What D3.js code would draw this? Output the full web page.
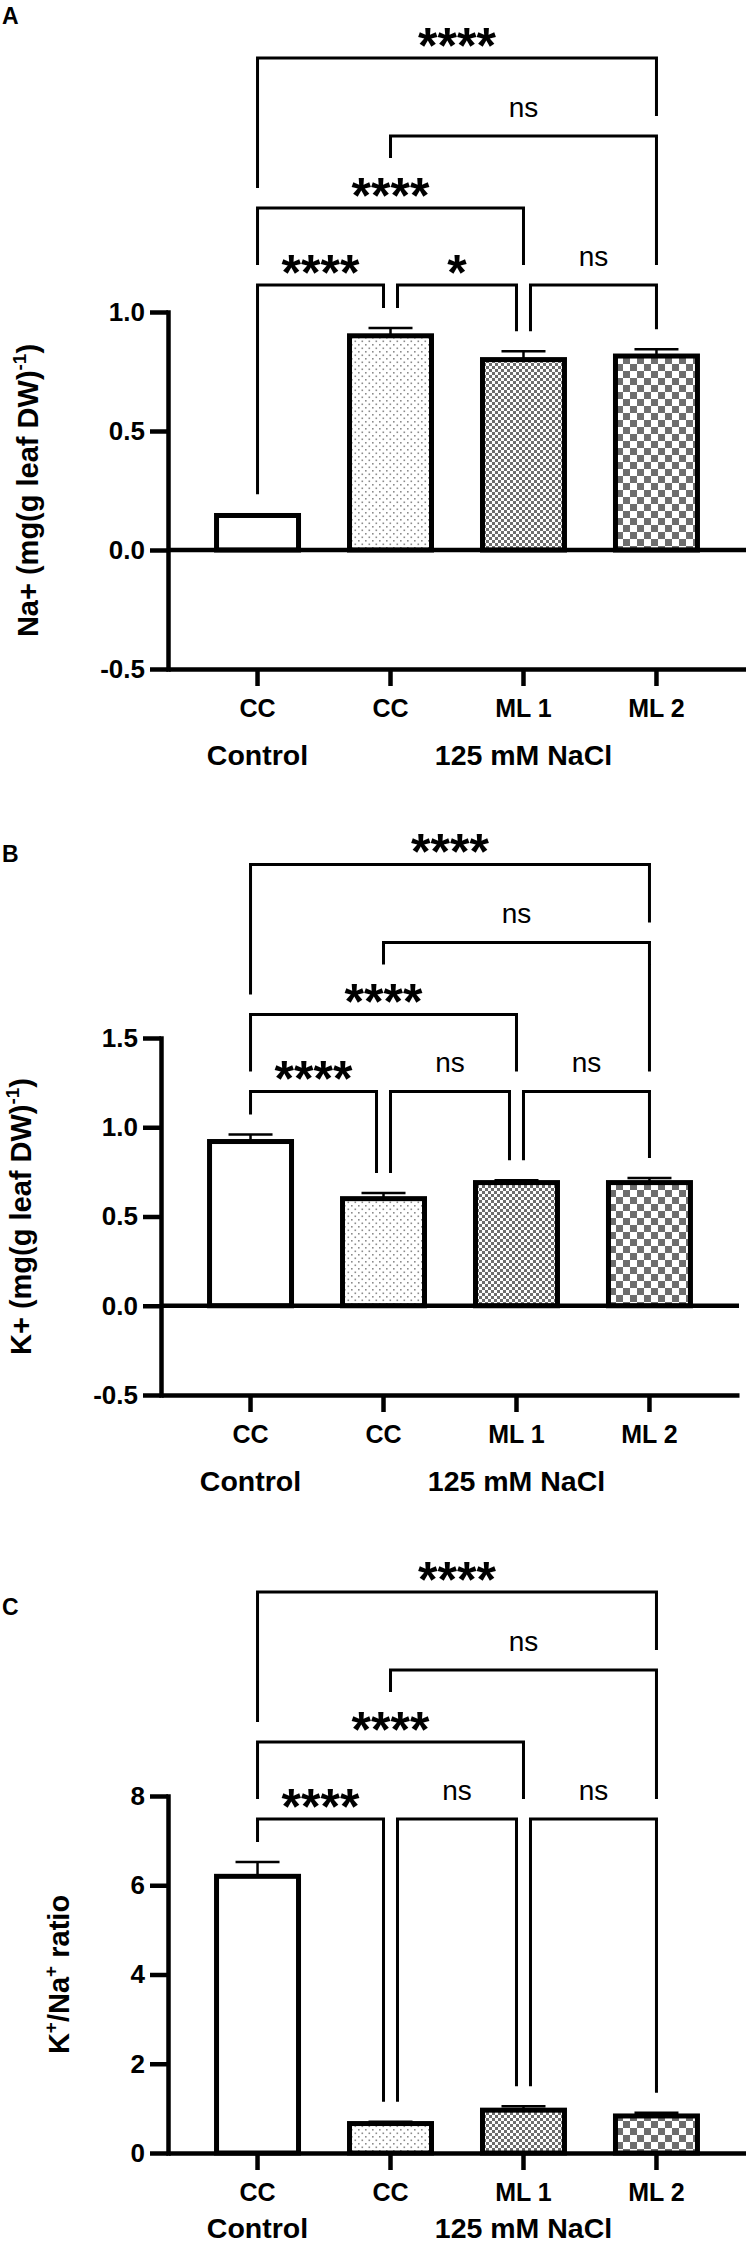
<!DOCTYPE html>
<html>
<head>
<meta charset="utf-8">
<script src="https://cdn.jsdelivr.net/npm/d3@7"></script>
<style>
body { margin: 0; background: #fff; }
svg { display: block; }
</style>
</head>
<body>
<script>
// groups on the x axis
const categories = ["CC", "CC", "ML 1", "ML 2"];
const groupLabels = ["Control", "125 mM NaCl"];
const groupSpans = [[0, 0], [1, 3]];

// A: Na+ content
const naMean = [0.145, 0.90, 0.80, 0.815];
const naSem = [0.005, 0.033, 0.035, 0.028];
const naTicks = [-0.5, 0, 0.5, 1.0];

// B: K+ content
const kMean = [0.92, 0.60, 0.69, 0.69];
const kSem = [0.04, 0.032, 0.013, 0.025];
const kTicks = [-0.5, 0, 0.5, 1.0, 1.5];

// C: K+/Na+ ratio
const ratioMean = [6.2, 0.66, 0.96, 0.83];
const ratioSem = [0.32, 0.04, 0.09, 0.07];
const ratioTicks = [0, 2, 4, 6, 8];

// multiple comparisons (pairs of category index) and their labels
const comparisonPairs = [[0, 1], [1, 2], [2, 3], [0, 2], [1, 3], [0, 3]];
const naSig = ["****", "*", "ns", "****", "ns", "****"];
const kSig = ["****", "ns", "ns", "****", "ns", "****"];
const ratioSig = ["****", "ns", "ns", "****", "ns", "****"];

const width = 746, height = 2247;
const fillIds = ["fill-white", "fill-dots", "fill-fine", "fill-coarse"];

// plain hyphen for negatives, like the original figure
const hyphen = f => v => f(v).replace("\u2212", "-");

const svg = d3.select("body").append("svg")
    .attr("width", width)
    .attr("height", height)
    .attr("font-family", "'Liberation Sans', Arial, sans-serif");

const defs = svg.append("defs");
defs.append("pattern").attr("id", "fill-white")
    .attr("patternUnits", "userSpaceOnUse").attr("width", 4).attr("height", 4)
  .append("rect").attr("width", 4).attr("height", 4).attr("fill", "#fff");

const dots = defs.append("pattern").attr("id", "fill-dots")
    .attr("patternUnits", "userSpaceOnUse").attr("width", 7).attr("height", 7);
dots.append("rect").attr("width", 7).attr("height", 7).attr("fill", "#fff");
dots.append("rect").attr("x", 1).attr("y", 1).attr("width", 1.6).attr("height", 1.6).attr("fill", "#8c8c8c");
dots.append("rect").attr("x", 4.5).attr("y", 4.5).attr("width", 1.6).attr("height", 1.6).attr("fill", "#8c8c8c");

function checker(id, s) {
  const p = defs.append("pattern").attr("id", id)
      .attr("patternUnits", "userSpaceOnUse").attr("width", 2 * s).attr("height", 2 * s);
  p.append("rect").attr("width", 2 * s).attr("height", 2 * s).attr("fill", "#fff");
  p.append("rect").attr("width", s).attr("height", s).attr("fill", "#6e6e6e");
  p.append("rect").attr("x", s).attr("y", s).attr("width", s).attr("height", s).attr("fill", "#6e6e6e");
}
checker("fill-fine", 3);
checker("fill-coarse", 7);

const panels = [
  {letter: "A", mean: naMean, sem: naSem, sig: naSig, ticks: naTicks, fmt: hyphen(d3.format(".1f")),
   title: [["Na+ (mg(g leaf DW)", 0], ["-1", 1], [")", 0]], bottom: 669, dx: 0, letterY: 24},
  {letter: "B", mean: kMean, sem: kSem, sig: kSig, ticks: kTicks, fmt: hyphen(d3.format(".1f")),
   title: [["K+ (mg(g leaf DW)", 0], ["-1", 1], [")", 0]], bottom: 1395, dx: -7, letterY: 862},
  {letter: "C", mean: ratioMean, sem: ratioSem, sig: ratioSig, ticks: ratioTicks, fmt: d3.format("d"),
   title: [["K", 0], ["+", 1], ["/Na", 0], ["+", 1], [" ratio", 0]], bottom: 2153, dx: 0, letterY: 1615}
];

const plotH = 357;
const tierStep = [77, 72, 78];

// lowest tier where the comparison does not overlap another one
function assignTiers(pairs) {
  const order = d3.range(pairs.length).sort((a, b) =>
    (pairs[a][1] - pairs[a][0]) - (pairs[b][1] - pairs[b][0]) || pairs[a][0] - pairs[b][0]);
  const tiers = [], placed = [];
  order.forEach(k => {
    const [a, b] = pairs[k];
    let t = 0;
    while (placed.some(q => q.t === t && Math.min(b, q.b) - Math.max(a, q.a) > 0)) t++;
    placed.push({a, b, t});
    tiers[k] = t;
  });
  return tiers;
}

function drawPanel(p) {
  const g = svg.append("g").attr("transform", `translate(${p.dx},0)`);
  const x = d3.scaleBand()
      .domain(d3.range(categories.length))
      .range([168, 746])
      .paddingInner(0.3835)
      .paddingOuter(0.365);
  const cx = i => x(i) + x.bandwidth() / 2;
  const y = d3.scaleLinear()
      .domain([p.ticks[0], p.ticks[p.ticks.length - 1]])
      .range([p.bottom, p.bottom - plotH]);

  // bars
  g.append("g").selectAll("rect")
    .data(p.mean)
    .join("rect")
      .attr("x", (d, i) => x(i))
      .attr("width", x.bandwidth())
      .attr("y", d => y(d))
      .attr("height", d => y(0) - y(d))
      .attr("fill", (d, i) => `url(#${fillIds[i]})`)
      .attr("stroke", "#000")
      .attr("stroke-width", 5);

  // error bars (SEM, upward)
  const err = g.append("g").attr("stroke", "#000").attr("stroke-width", 2.5);
  p.mean.forEach((m, i) => {
    err.append("line").attr("x1", cx(i)).attr("x2", cx(i))
        .attr("y1", y(m)).attr("y2", y(m + p.sem[i]));
    err.append("line").attr("x1", cx(i) - 22).attr("x2", cx(i) + 22)
        .attr("y1", y(m + p.sem[i])).attr("y2", y(m + p.sem[i]));
  });

  // y axis
  const yAxis = g.append("g")
      .attr("transform", "translate(168,0)")
      .call(d3.axisLeft(y).tickValues(p.ticks).tickFormat(p.fmt).tickSize(18).tickSizeOuter(0).tickPadding(5));
  yAxis.select(".domain").attr("stroke-width", 4.5).attr("stroke-linecap", "square");
  yAxis.selectAll(".tick line").attr("stroke-width", 4.5);
  yAxis.selectAll("text").attr("font-size", 26).attr("font-weight", "bold").attr("fill", "#000");

  // x axis at the bottom of the plot
  const xAxis = g.append("g")
      .attr("transform", `translate(0,${p.bottom})`)
      .call(d3.axisBottom(x).tickFormat(i => categories[i]).tickSize(17).tickSizeOuter(0).tickPadding(13));
  xAxis.select(".domain").attr("stroke-width", 4.5);
  xAxis.selectAll(".tick line").attr("stroke-width", 4.5);
  xAxis.selectAll("text").attr("font-size", 25).attr("font-weight", "bold").attr("fill", "#000");

  // line at y = 0 when the axis goes below zero
  if (p.ticks[0] < 0) {
    g.append("line").attr("x1", 168).attr("x2", 746)
        .attr("y1", y(0)).attr("y2", y(0))
        .attr("stroke", "#000").attr("stroke-width", 4.5);
  }

  // group labels (kept inside the page at the very bottom)
  g.append("g").selectAll("text")
    .data(groupLabels)
    .join("text")
      .attr("x", (d, i) => (cx(groupSpans[i][0]) + cx(groupSpans[i][1])) / 2)
      .attr("y", Math.min(p.bottom + 96, height - 9))
      .attr("text-anchor", "middle")
      .attr("font-size", 28.5)
      .attr("font-weight", "bold")
      .text(d => d);

  // y axis title
  let minLeft = Infinity;
  yAxis.selectAll("text").each(function() { minLeft = Math.min(minLeft, this.getBBox().x + 168); });
  const tx = Math.max(minLeft - 72, 14 - p.dx);
  const title = g.append("text")
      .attr("transform", `translate(${tx + 10},${p.bottom - plotH / 2}) rotate(-90)`)
      .attr("text-anchor", "middle")
      .attr("font-size", 29)
      .attr("font-weight", "bold");
  let up = 0;
  p.title.forEach(([s, sup]) => {
    const dy = sup === up ? 0 : (sup ? -12 : 12);
    up = sup;
    title.append("tspan").attr("dy", dy).attr("font-size", sup ? 19 : 29).text(s);
  });

  // significance brackets
  const tiers = assignTiers(comparisonPairs);
  const base = y(d3.max(p.mean, (m, i) => m + p.sem[i])) - 43;
  const tierY = [base];
  tierStep.forEach((s, k) => tierY.push(tierY[k] - s));

  const br = comparisonPairs.map(([a, b], k) => {
    const t = tiers[k];
    const sharedL = comparisonPairs.some(([a2, b2], k2) => k2 !== k && tiers[k2] === t && b2 === a);
    const sharedR = comparisonPairs.some(([a2, b2], k2) => k2 !== k && tiers[k2] === t && a2 === b);
    return {a, b, t, label: p.sig[k], yb: tierY[t],
      xl: cx(a) + (sharedL ? 7 : 0), xr: cx(b) - (sharedR ? 7 : 0)};
  });

  const bg = g.append("g");
  br.forEach(d => {
    const star = d.label.includes("*");
    const txt = bg.append("text")
        .attr("x", (d.xl + d.xr) / 2)
        .attr("y", star ? d.yb + 5 : d.yb - 19)
        .attr("text-anchor", "middle")
        .attr("font-size", star ? 50 : 28)
        .attr("font-weight", star ? "bold" : "normal")
        .text(d.label);
    d.w = txt.node().getComputedTextLength();
    d.top = d.yb - 34;
  });

  function legEnd(c, xc, t) {
    let lim = y(p.mean[c] + p.sem[c]) - 20;
    br.forEach(o => {
      if (o.t >= t) return;
      if (cx(o.a) - 1 <= xc && xc <= cx(o.b) + 1) lim = Math.min(lim, o.yb - 20);
      const m = (o.xl + o.xr) / 2;
      if (Math.abs(xc - m) <= o.w / 2 + 2) lim = Math.min(lim, o.top - 16);
    });
    return lim;
  }

  bg.selectAll("path")
    .data(br)
    .join("path")
      .attr("d", d => `M${d.xl},${legEnd(d.a, d.xl, d.t)}V${d.yb}H${d.xr}V${legEnd(d.b, d.xr, d.t)}`)
      .attr("fill", "none")
      .attr("stroke", "#000")
      .attr("stroke-width", 3);

  // panel letter
  svg.append("text")
      .attr("x", 2)
      .attr("y", p.letterY)
      .attr("font-size", 23)
      .attr("font-weight", "bold")
      .text(p.letter);
}

panels.forEach(drawPanel);
</script>
</body>
</html>
